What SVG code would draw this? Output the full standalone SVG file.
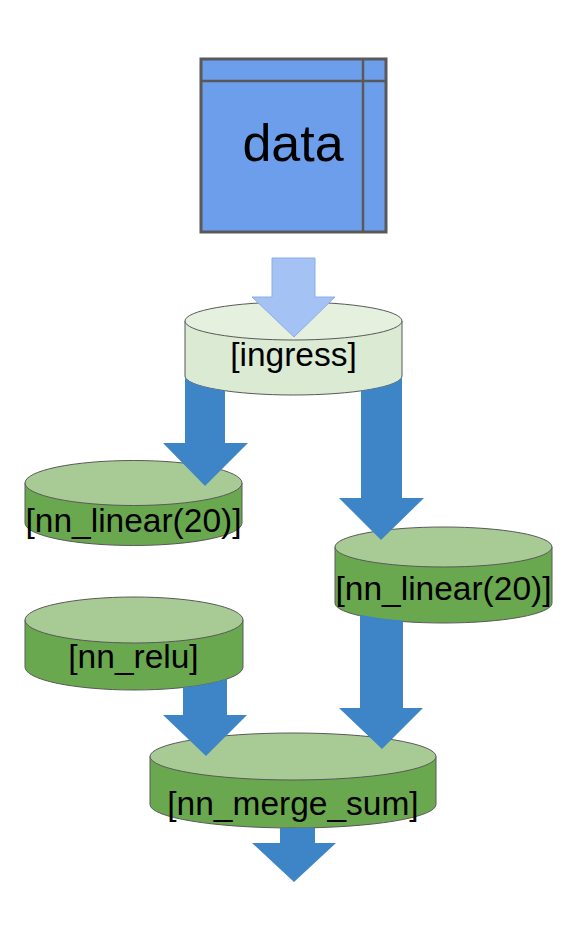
<svg xmlns="http://www.w3.org/2000/svg" width="574" height="926" viewBox="0 0 574 926">
<style>
.lbl{font-family:"Liberation Sans",Arial,sans-serif;font-size:33.5px;fill:#000;text-anchor:middle}
.side{fill:#6aa84f;stroke:#595959;stroke-width:1}
.top{fill:#a8cb96;stroke:#595959;stroke-width:1}
.iside{fill:#dbead3;stroke:#595959;stroke-width:1}
.itop{fill:#e5f0df;stroke:#595959;stroke-width:1}
.arr{fill:#3d85c6}
</style>
<rect width="574" height="926" fill="#fff"/>
<g id="data">
<rect x="201" y="59" width="185" height="173" fill="#6d9eeb" stroke="#595959" stroke-width="3"/>
<line x1="201" y1="81" x2="386" y2="81" stroke="#595959" stroke-width="2.5"/>
<line x1="363" y1="59" x2="363" y2="232" stroke="#595959" stroke-width="2.5"/>
<text x="293" y="161" class="lbl" style="font-size:52px">data</text>
</g>
<g id="ingress">
<path class="iside" d="M185 321 V376 A108.5 19 0 0 0 402 376 V321 Z"/>
<ellipse class="itop" cx="293.5" cy="321" rx="108.5" ry="19"/>
<text x="293.5" y="366" class="lbl">[ingress]</text>
</g>
<g id="nn_linear_left">
<path class="side" d="M25 483 V523 A108.5 22.5 0 0 0 242 523 V483 Z"/>
<ellipse class="top" cx="133.5" cy="483" rx="108.5" ry="22.5"/>
<text x="133.5" y="532" class="lbl">[nn_linear(20)]</text>
</g>
<g id="nn_linear_right">
<path class="side" d="M335 547 V603 A108.5 20 0 0 0 552 603 V547 Z"/>
<ellipse class="top" cx="443.5" cy="547" rx="108.5" ry="20"/>
<text x="443.5" y="600" class="lbl">[nn_linear(20)]</text>
</g>
<g id="nn_relu">
<path class="side" d="M25 620 V667 A109 23 0 0 0 243 667 V620 Z"/>
<ellipse class="top" cx="134" cy="620" rx="109" ry="23"/>
<text x="133.5" y="668" class="lbl">[nn_relu]</text>
</g>
<g id="nn_merge_sum">
<path class="side" d="M150 756.5 V804.5 A143 23.5 0 0 0 436 804.5 V756.5 Z"/>
<ellipse class="top" cx="293" cy="756.5" rx="143" ry="23.5"/>
<text x="293" y="815" class="lbl">[nn_merge_sum]</text>
</g>
<g id="connectors">
<path d="M272 258 H315 V297 H335 L294 337 L252 297 H272 Z" fill="#a4c2f4" stroke="#8aaee6" stroke-width="1"/>
<path class="arr" d="M185 376 A108.5 19 0 0 0 225 390.7 V443 H248 L205 486 L163 443 H185 Z"/>
<path class="arr" d="M361 390.9 A108.5 19 0 0 0 402 376 V498 H424 L381 540 L339 498 H361 Z"/>
<path class="arr" d="M183 687.5 A109 23 0 0 0 227 678.7 V715 H247 L206 756 L163 715 H183 Z"/>
<path class="arr" d="M360 614.8 A108.5 20 0 0 0 403 620.6 V708 H423 L382 749 L339 708 H360 Z"/>
<path class="arr" d="M280 827.9 A143 23.5 0 0 0 315 827.7 V843 H336 L294 882 L252 843 H280 Z"/>
</g>
</svg>
